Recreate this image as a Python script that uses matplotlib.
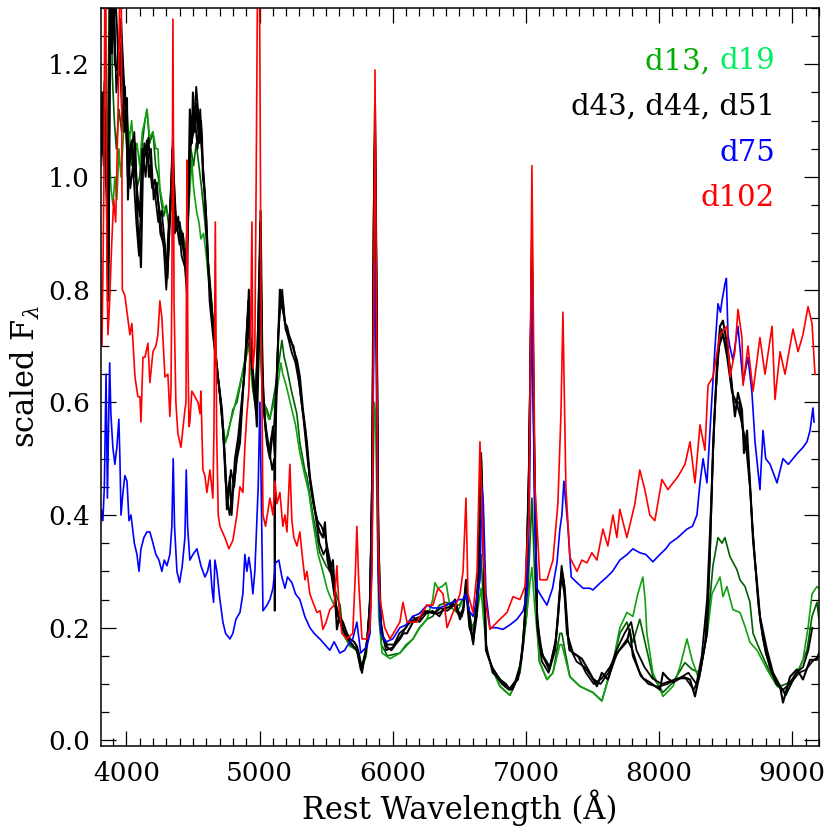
import matplotlib
matplotlib.use('Agg')
import matplotlib.pyplot as plt
from matplotlib.ticker import MultipleLocator

plt.rcParams['font.family'] = 'DejaVu Serif'
plt.rcParams['mathtext.fontset'] = 'dejavuserif'
plt.rcParams['font.size'] = 19

# ---- spectra (rest wavelength in A, scaled flux) ----
wl_d102 = [3802, 3809, 3817, 3824, 3832, 3839, 3846, 3854, 3862, 3875, 3890, 3905, 3920, 3937, 3952, 3962,
           3970, 3989, 4005, 4027, 4042, 4065, 4087, 4102, 4110, 4125, 4140, 4162, 4177, 4200, 4222, 4237,
           4252, 4267, 4290, 4312, 4327, 4335, 4342, 4350, 4358, 4372, 4387, 4410, 4440, 4448, 4455, 4462,
           4470, 4477, 4492, 4515, 4538, 4553, 4560, 4575, 4590, 4605, 4628, 4650, 4658, 4668, 4678, 4690,
           4703, 4740, 4770, 4800, 4830, 4853, 4875, 4890, 4905, 4920, 4935, 4943, 4950, 4965, 4975, 4985,
           5000, 5011, 5026, 5045, 5078, 5101, 5116, 5131, 5153, 5175, 5191, 5206, 5228, 5243, 5258, 5281,
           5303, 5320, 5341, 5356, 5378, 5401, 5431, 5455, 5476, 5500, 5528, 5560, 5581, 5596, 5618, 5656,
           5700, 5720, 5731, 5745, 5769, 5806, 5829, 5845, 5857, 5867, 5877, 5890, 5905, 5940, 5980, 6054,
           6077, 6107, 6182, 6257, 6302, 6340, 6378, 6408, 6453, 6505, 6528, 6550, 6565, 6603, 6633, 6655,
           6678, 6700, 6730, 6805, 6858, 6903, 6955, 6993, 7023, 7045, 7068, 7105, 7158, 7203, 7240, 7263,
           7278, 7300, 7330, 7383, 7420, 7458, 7495, 7533, 7578, 7615, 7653, 7683, 7705, 7758, 7818, 7855,
           7893, 7930, 7968, 8021, 8066, 8104, 8141, 8194, 8232, 8269, 8307, 8344, 8367, 8404, 8457, 8509,
           8532, 8569, 8592, 8622, 8630, 8667, 8705, 8757, 8795, 8848, 8870, 8908, 8945, 9005, 9043, 9080,
           9118, 9148, 9170]
fl_d102 = [0.92, 0.78, 0.70, 0.82, 1.00, 1.35, 1.35, 0.85, 0.72, 0.78, 0.88, 0.96, 0.92, 1.10, 1.35, 1.35,
           0.80, 0.79, 0.76, 0.72, 0.74, 0.645, 0.61, 0.61, 0.565, 0.68, 0.68, 0.705, 0.635, 0.69, 0.70, 0.72,
           0.78, 0.75, 0.645, 0.65, 0.575, 0.62, 0.80, 1.28, 0.78, 0.60, 0.545, 0.52, 0.587, 0.60, 1.03, 0.70,
           0.557, 0.565, 0.62, 0.61, 0.60, 0.58, 0.62, 0.48, 0.47, 0.44, 0.48, 0.43, 0.55, 0.92, 0.55, 0.40,
           0.38, 0.36, 0.34, 0.355, 0.40, 0.45, 0.44, 0.52, 0.58, 0.62, 0.75, 0.92, 0.66, 0.70, 1.00, 1.35,
           1.35, 0.80, 0.40, 0.38, 0.43, 0.40, 0.46, 0.42, 0.44, 0.38, 0.40, 0.37, 0.49, 0.39, 0.36, 0.345,
           0.37, 0.33, 0.285, 0.30, 0.26, 0.245, 0.227, 0.23, 0.197, 0.21, 0.232, 0.24, 0.31, 0.24, 0.19, 0.18,
           0.19, 0.30, 0.38, 0.28, 0.18, 0.18, 0.20, 0.30, 0.75, 1.19, 0.80, 0.35, 0.25, 0.20, 0.18, 0.21,
           0.245, 0.21, 0.21, 0.24, 0.24, 0.27, 0.26, 0.20, 0.227, 0.26, 0.30, 0.43, 0.26, 0.227, 0.30, 0.53,
           0.35, 0.24, 0.197, 0.215, 0.227, 0.255, 0.25, 0.273, 0.40, 1.02, 0.45, 0.285, 0.285, 0.32, 0.42, 0.58,
           0.76, 0.45, 0.325, 0.30, 0.32, 0.315, 0.333, 0.32, 0.375, 0.345, 0.40, 0.36, 0.41, 0.36, 0.42, 0.48,
           0.445, 0.40, 0.39, 0.463, 0.445, 0.457, 0.468, 0.49, 0.53, 0.457, 0.56, 0.515, 0.63, 0.645, 0.72, 0.735,
           0.645, 0.69, 0.765, 0.715, 0.63, 0.70, 0.62, 0.715, 0.65, 0.735, 0.605, 0.69, 0.65, 0.73, 0.69, 0.72,
           0.77, 0.74, 0.65]

wl_d75 = [3802, 3812, 3824, 3835, 3848, 3858, 3866, 3875, 3884, 3899, 3914, 3929, 3944, 3952, 3960, 3975,
          3989, 4005, 4020, 4035, 4060, 4080, 4095, 4110, 4132, 4155, 4177, 4200, 4222, 4245, 4267, 4285,
          4305, 4327, 4342, 4352, 4362, 4380, 4400, 4420, 4440, 4450, 4460, 4477, 4500, 4530, 4560, 4590,
          4610, 4628, 4643, 4655, 4665, 4680, 4700, 4725, 4745, 4778, 4800, 4823, 4853, 4875, 4890, 4905,
          4920, 4935, 4950, 4965, 4990, 5003, 5015, 5026, 5056, 5078, 5101, 5120, 5145, 5168, 5191, 5210,
          5243, 5270, 5303, 5340, 5378, 5410, 5453, 5490, 5528, 5560, 5603, 5640, 5656, 5700, 5731, 5760,
          5806, 5830, 5845, 5857, 5867, 5877, 5890, 5910, 5950, 6000, 6054, 6100, 6150, 6200, 6257, 6300,
          6350, 6400, 6450, 6500, 6530, 6550, 6575, 6603, 6630, 6655, 6670, 6680, 6700, 6730, 6780, 6828,
          6880, 6933, 6980, 7008, 7025, 7045, 7065, 7083, 7105, 7158, 7200, 7233, 7255, 7270, 7285, 7300,
          7315, 7340, 7383, 7430, 7480, 7503, 7560, 7608, 7650, 7705, 7760, 7803, 7855, 7900, 7953, 8006,
          8050, 8081, 8140, 8209, 8250, 8284, 8300, 8307, 8330, 8359, 8382, 8397, 8420, 8442, 8460, 8472,
          8494, 8505, 8517, 8530, 8554, 8592, 8630, 8667, 8697, 8720, 8757, 8780, 8800, 8833, 8885, 8930,
          8970, 9005, 9040, 9080, 9110, 9133, 9155, 9163]
fl_d75 = [0.37, 0.41, 0.39, 0.45, 0.65, 0.43, 0.55, 0.67, 0.58, 0.52, 0.49, 0.52, 0.57, 0.50, 0.40, 0.44,
          0.47, 0.46, 0.39, 0.40, 0.35, 0.33, 0.30, 0.34, 0.36, 0.37, 0.37, 0.35, 0.33, 0.32, 0.30, 0.32,
          0.31, 0.33, 0.38, 0.50, 0.38, 0.30, 0.28, 0.31, 0.36, 0.48, 0.38, 0.32, 0.33, 0.34, 0.31, 0.29,
          0.30, 0.32, 0.27, 0.245, 0.32, 0.30, 0.255, 0.21, 0.19, 0.18, 0.19, 0.215, 0.227, 0.26, 0.33, 0.30,
          0.325, 0.30, 0.26, 0.30, 0.45, 0.60, 0.40, 0.23, 0.24, 0.25, 0.27, 0.315, 0.32, 0.29, 0.27, 0.29,
          0.28, 0.26, 0.25, 0.22, 0.20, 0.19, 0.18, 0.17, 0.16, 0.175, 0.155, 0.16, 0.167, 0.18, 0.21, 0.155,
          0.167, 0.19, 0.35, 0.70, 0.85, 0.65, 0.30, 0.19, 0.175, 0.18, 0.20, 0.205, 0.22, 0.225, 0.24, 0.235,
          0.235, 0.24, 0.245, 0.25, 0.25, 0.26, 0.23, 0.22, 0.25, 0.285, 0.45, 0.42, 0.26, 0.20, 0.20, 0.197,
          0.205, 0.215, 0.23, 0.26, 0.40, 0.82, 0.40, 0.27, 0.26, 0.24, 0.27, 0.315, 0.375, 0.40, 0.46, 0.42,
          0.38, 0.29, 0.28, 0.27, 0.27, 0.267, 0.28, 0.29, 0.30, 0.32, 0.33, 0.34, 0.333, 0.33, 0.317, 0.33,
          0.34, 0.35, 0.36, 0.375, 0.38, 0.40, 0.44, 0.457, 0.50, 0.457, 0.55, 0.61, 0.70, 0.775, 0.76, 0.78,
          0.81, 0.82, 0.72, 0.70, 0.675, 0.735, 0.635, 0.68, 0.617, 0.53, 0.445, 0.55, 0.50, 0.49, 0.457, 0.50,
          0.49, 0.50, 0.51, 0.52, 0.53, 0.55, 0.59, 0.565]

wl_d43 = [3802, 3809, 3817, 3824, 3832, 3839, 3846, 3854, 3862, 3869, 3877, 3884, 3892, 3899, 3914, 3929,
          3945, 3960, 3975, 3989, 4005, 4012, 4027, 4042, 4055, 4065, 4080, 4087, 4102, 4110, 4125, 4140,
          4155, 4170, 4177, 4195, 4215, 4237, 4252, 4267, 4275, 4290, 4305, 4315, 4327, 4340, 4350, 4362,
          4380, 4400, 4417, 4435, 4455, 4465, 4477, 4492, 4500, 4515, 4530, 4545, 4560, 4568, 4575, 4590,
          4605, 4613, 4630, 4650, 4665, 4688, 4718, 4740, 4755, 4770, 4778, 4790, 4800, 4815, 4830, 4853,
          4875, 4895, 4905, 4920, 4935, 4943, 4965, 4980, 4995, 5008, 5020, 5030, 5056, 5078, 5101, 5116,
          5131, 5153, 5165, 5176, 5191, 5206, 5220, 5243, 5260, 5281, 5303, 5326, 5356, 5378, 5416, 5440,
          5453, 5476, 5491, 5510, 5528, 5551, 5560, 5581, 5600, 5626, 5656, 5679, 5710, 5731, 5750, 5769,
          5790, 5810, 5830, 5845, 5857, 5867, 5877, 5890, 5905, 5930, 5960, 5990, 6020, 6054, 6080, 6107,
          6152, 6204, 6230, 6280, 6330, 6355, 6400, 6430, 6468, 6505, 6530, 6550, 6565, 6603, 6630, 6648,
          6663, 6678, 6690, 6700, 6745, 6805, 6850, 6880, 6910, 6940, 6978, 7008, 7025, 7045, 7060, 7083,
          7105, 7128, 7180, 7220, 7240, 7260, 7270, 7285, 7308, 7353, 7420, 7480, 7533, 7570, 7615, 7683,
          7758, 7780, 7803, 7855, 7880, 7930, 8006, 8029, 8066, 8104, 8179, 8232, 8269, 8307, 8359, 8382,
          8404, 8434, 8457, 8479, 8509, 8540, 8569, 8592, 8622, 8637, 8660, 8682, 8705, 8735, 8757, 8810,
          8855, 8908, 8930, 8983, 9035, 9080, 9133, 9185, 9200]
fl_d43 = [1.05, 1.12, 1.08, 1.15, 1.06, 1.10, 1.00, 0.95, 0.78, 0.90, 1.25, 1.35, 1.22, 1.35, 1.20, 1.19,
          1.24, 1.28, 1.20, 1.14, 1.14, 0.96, 1.05, 1.065, 1.00, 1.06, 0.95, 0.91, 0.88, 0.84, 1.02, 1.04,
          1.065, 1.00, 1.02, 0.98, 0.995, 0.96, 0.935, 0.90, 0.89, 0.86, 0.84, 0.90, 0.935, 1.00, 1.065, 0.95,
          0.905, 0.92, 0.89, 0.86, 0.795, 0.95, 1.12, 1.06, 1.15, 1.08, 1.13, 1.06, 1.10, 1.07, 1.00, 0.97,
          0.90, 0.85, 0.80, 0.735, 0.70, 0.645, 0.587, 0.50, 0.41, 0.45, 0.468, 0.40, 0.44, 0.47, 0.50, 0.528,
          0.617, 0.68, 0.705, 0.80, 0.70, 0.675, 0.617, 0.557, 0.70, 0.94, 0.70, 0.60, 0.528, 0.50, 0.557, 0.50,
          0.65, 0.80, 0.78, 0.775, 0.74, 0.735, 0.72, 0.705, 0.69, 0.675, 0.645, 0.587, 0.528, 0.468, 0.41, 0.38,
          0.37, 0.36, 0.387, 0.32, 0.30, 0.32, 0.285, 0.197, 0.22, 0.21, 0.19, 0.18, 0.175, 0.167, 0.15, 0.12,
          0.15, 0.18, 0.25, 0.45, 0.90, 1.13, 0.85, 0.40, 0.22, 0.18, 0.165, 0.16, 0.17, 0.18, 0.19, 0.19,
          0.21, 0.215, 0.23, 0.227, 0.225, 0.227, 0.235, 0.237, 0.25, 0.215, 0.23, 0.285, 0.24, 0.175, 0.22, 0.30,
          0.51, 0.40, 0.25, 0.16, 0.13, 0.108, 0.10, 0.09, 0.10, 0.108, 0.167, 0.285, 0.50, 0.89, 0.55, 0.227,
          0.17, 0.15, 0.13, 0.17, 0.215, 0.28, 0.30, 0.28, 0.19, 0.155, 0.145, 0.12, 0.096, 0.12, 0.108, 0.155,
          0.175, 0.197, 0.15, 0.12, 0.11, 0.103, 0.09, 0.12, 0.11, 0.103, 0.113, 0.108, 0.078, 0.12, 0.19, 0.34,
          0.515, 0.665, 0.735, 0.745, 0.705, 0.645, 0.575, 0.617, 0.587, 0.51, 0.55, 0.457, 0.355, 0.28, 0.22, 0.16,
          0.12, 0.096, 0.067, 0.113, 0.126, 0.108, 0.143, 0.143, 0.155]

wl_d44 = [3802, 3820, 3840, 3855, 3866, 3875, 3890, 3905, 3925, 3950, 3970, 3990, 4010, 4035, 4060, 4080,
          4100, 4120, 4145, 4165, 4190, 4215, 4240, 4265, 4290, 4310, 4330, 4352, 4375, 4400, 4425, 4450,
          4470, 4490, 4510, 4535, 4555, 4575, 4595, 4620, 4645, 4670, 4700, 4725, 4745, 4765, 4785, 4810,
          4835, 4860, 4885, 4910, 4925, 4945, 4970, 4990, 5005, 5020, 5040, 5070, 5095, 5110, 5114, 5119,
          5140, 5160, 5185, 5210, 5240, 5270, 5300, 5330, 5360, 5390, 5420, 5450, 5480, 5500, 5530, 5560,
          5590, 5620, 5660, 5700, 5740, 5765, 5800, 5830, 5847, 5860, 5868, 5878, 5892, 5910, 5950, 6000,
          6050, 6100, 6150, 6200, 6250, 6300, 6350, 6400, 6450, 6490, 6520, 6550, 6575, 6605, 6640, 6663,
          6680, 6700, 6750, 6800, 6850, 6900, 6950, 6990, 7020, 7045, 7062, 7085, 7120, 7170, 7220, 7265,
          7290, 7320, 7380, 7440, 7500, 7560, 7620, 7680, 7740, 7790, 7830, 7890, 7950, 8020, 8080, 8150,
          8220, 8280, 8320, 8360, 8390, 8420, 8450, 8480, 8510, 8545, 8580, 8615, 8650, 8685, 8715, 8745,
          8780, 8830, 8880, 8930, 8980, 9030, 9080, 9120, 9150]
fl_d44 = [1.10, 1.04, 1.12, 0.98, 0.80, 1.35, 1.30, 1.35, 1.15, 1.22, 1.10, 1.16, 1.00, 1.04, 1.08, 0.98,
          0.93, 1.05, 1.00, 1.07, 1.00, 0.97, 0.92, 0.94, 0.88, 0.82, 0.95, 1.02, 0.92, 0.88, 0.90, 0.82,
          1.00, 1.10, 1.12, 1.05, 1.12, 1.02, 0.93, 0.82, 0.76, 0.68, 0.62, 0.55, 0.46, 0.43, 0.48, 0.45,
          0.52, 0.57, 0.65, 0.75, 0.70, 0.66, 0.60, 0.75, 0.92, 0.66, 0.57, 0.52, 0.48, 0.50, 0.23, 0.55,
          0.72, 0.78, 0.75, 0.72, 0.69, 0.67, 0.63, 0.57, 0.50, 0.44, 0.40, 0.35, 0.33, 0.34, 0.31, 0.26,
          0.22, 0.20, 0.18, 0.17, 0.155, 0.13, 0.16, 0.24, 0.50, 1.00, 1.10, 0.80, 0.35, 0.20, 0.16, 0.165,
          0.19, 0.20, 0.22, 0.21, 0.225, 0.23, 0.22, 0.24, 0.245, 0.23, 0.22, 0.27, 0.20, 0.18, 0.28, 0.49,
          0.35, 0.17, 0.12, 0.11, 0.095, 0.09, 0.12, 0.20, 0.45, 0.86, 0.50, 0.20, 0.14, 0.12, 0.16, 0.29,
          0.26, 0.17, 0.14, 0.13, 0.11, 0.10, 0.12, 0.16, 0.19, 0.21, 0.16, 0.13, 0.11, 0.10, 0.105, 0.11,
          0.12, 0.10, 0.15, 0.25, 0.42, 0.60, 0.70, 0.72, 0.68, 0.62, 0.60, 0.57, 0.53, 0.44, 0.33, 0.24,
          0.18, 0.13, 0.10, 0.09, 0.10, 0.12, 0.13, 0.16, 0.20]

wl_d51 = [3802, 3815, 3830, 3850, 3866, 3880, 3900, 3920, 3945, 3965, 3985, 4005, 4030, 4050, 4075, 4095,
          4115, 4135, 4160, 4185, 4205, 4230, 4255, 4280, 4300, 4320, 4345, 4365, 4390, 4415, 4440, 4460,
          4480, 4505, 4525, 4545, 4565, 4585, 4600, 4625, 4650, 4680, 4710, 4735, 4755, 4775, 4795, 4815,
          4840, 4865, 4890, 4915, 4930, 4955, 4975, 4995, 5008, 5022, 5045, 5070, 5090, 5110, 5135, 5150,
          5170, 5195, 5225, 5255, 5285, 5315, 5345, 5375, 5405, 5435, 5465, 5495, 5520, 5545, 5575, 5610,
          5650, 5690, 5730, 5760, 5795, 5825, 5845, 5858, 5867, 5878, 5893, 5915, 5960, 6010, 6060, 6110,
          6160, 6210, 6260, 6310, 6360, 6410, 6460, 6500, 6530, 6552, 6575, 6605, 6642, 6664, 6682, 6702,
          6760, 6820, 6870, 6920, 6965, 6995, 7022, 7045, 7063, 7085, 7125, 7175, 7225, 7268, 7292, 7325,
          7390, 7450, 7510, 7570, 7630, 7700, 7760, 7800, 7860, 7920, 7990, 8060, 8130, 8200, 8260, 8300,
          8345, 8380, 8410, 8440, 8470, 8500, 8530, 8560, 8600, 8640, 8670, 8700, 8730, 8760, 8800, 8850,
          8900, 8950, 9000, 9050, 9100, 9150, 9200]
fl_d51 = [1.00, 1.10, 1.02, 1.08, 0.85, 1.30, 1.25, 1.32, 1.18, 1.25, 1.08, 1.10, 0.98, 1.02, 0.92, 0.86,
          0.98, 1.06, 1.03, 1.05, 0.96, 0.99, 0.90, 0.88, 0.80, 0.88, 1.05, 0.90, 0.93, 0.86, 0.84, 0.90,
          1.05, 1.08, 1.16, 1.10, 1.05, 0.99, 0.93, 0.78, 0.72, 0.66, 0.60, 0.52, 0.44, 0.40, 0.43, 0.50,
          0.54, 0.60, 0.66, 0.78, 0.72, 0.62, 0.58, 0.80, 0.90, 0.62, 0.55, 0.51, 0.54, 0.56, 0.68, 0.76,
          0.80, 0.73, 0.71, 0.70, 0.66, 0.60, 0.55, 0.47, 0.42, 0.39, 0.38, 0.36, 0.33, 0.30, 0.24, 0.21,
          0.185, 0.17, 0.16, 0.125, 0.15, 0.22, 0.42, 0.95, 1.08, 0.82, 0.36, 0.19, 0.17, 0.17, 0.185, 0.205,
          0.215, 0.22, 0.23, 0.225, 0.235, 0.23, 0.24, 0.22, 0.235, 0.28, 0.21, 0.17, 0.29, 0.50, 0.33, 0.16,
          0.12, 0.10, 0.09, 0.105, 0.14, 0.23, 0.48, 0.87, 0.52, 0.21, 0.15, 0.125, 0.18, 0.31, 0.27, 0.16,
          0.15, 0.12, 0.10, 0.11, 0.13, 0.16, 0.18, 0.16, 0.115, 0.10, 0.095, 0.10, 0.11, 0.11, 0.09, 0.11,
          0.17, 0.32, 0.55, 0.68, 0.73, 0.70, 0.66, 0.60, 0.60, 0.53, 0.50, 0.38, 0.29, 0.21, 0.155, 0.12,
          0.10, 0.08, 0.105, 0.12, 0.125, 0.14, 0.15]

wl_d13 = [3802, 3812, 3824, 3835, 3846, 3855, 3866, 3875, 3884, 3895, 3910, 3925, 3945, 3965, 3985, 4005,
          4020, 4040, 4060, 4080, 4100, 4120, 4140, 4155, 4175, 4200, 4220, 4240, 4260, 4280, 4300, 4320,
          4340, 4360, 4390, 4420, 4445, 4465, 4485, 4505, 4525, 4545, 4565, 4590, 4615, 4640, 4665, 4690,
          4715, 4740, 4760, 4800, 4830, 4853, 4890, 4920, 4945, 4965, 4985, 5000, 5015, 5030, 5056, 5078,
          5100, 5131, 5168, 5185, 5206, 5240, 5280, 5303, 5340, 5356, 5401, 5453, 5500, 5530, 5551, 5580,
          5605, 5626, 5680, 5730, 5769, 5800, 5830, 5847, 5860, 5868, 5878, 5892, 5915, 5960, 6054, 6110,
          6152, 6200, 6257, 6300, 6350, 6400, 6450, 6500, 6550, 6595, 6630, 6650, 6663, 6680, 6708, 6760,
          6805, 6880, 6955, 7008, 7030, 7045, 7065, 7100, 7158, 7203, 7255, 7270, 7300, 7330, 7405, 7503,
          7570, 7653, 7705, 7758, 7803, 7855, 7908, 7953, 8029, 8104, 8194, 8247, 8307, 8359, 8404, 8442,
          8472, 8494, 8532, 8584, 8607, 8645, 8682, 8705, 8757, 8833, 8908, 8983, 9058, 9110, 9148, 9185,
          9200]
fl_d13 = [1.10, 1.15, 1.12, 1.17, 1.05, 1.00, 1.20, 1.35, 1.35, 1.18, 1.10, 1.05, 1.12, 1.08, 1.12, 1.05,
          1.08, 1.02, 1.05, 0.98, 1.00, 1.06, 1.10, 1.12, 1.06, 1.08, 1.02, 1.00, 0.96, 0.93, 0.95, 0.91,
          0.96, 0.92, 0.90, 0.88, 0.86, 0.95, 1.05, 1.02, 1.06, 1.02, 0.98, 0.92, 0.85, 0.78, 0.70, 0.64,
          0.58, 0.53, 0.54, 0.587, 0.60, 0.628, 0.675, 0.705, 0.65, 0.617, 0.68, 0.75, 0.65, 0.60, 0.587, 0.57,
          0.60, 0.645, 0.71, 0.68, 0.66, 0.62, 0.58, 0.528, 0.48, 0.468, 0.40, 0.333, 0.31, 0.30, 0.285, 0.255,
          0.24, 0.19, 0.167, 0.165, 0.13, 0.15, 0.25, 0.50, 0.82, 0.88, 0.70, 0.32, 0.17, 0.15, 0.155, 0.17,
          0.18, 0.20, 0.215, 0.22, 0.24, 0.245, 0.24, 0.24, 0.26, 0.20, 0.22, 0.28, 0.33, 0.25, 0.155, 0.12,
          0.096, 0.08, 0.12, 0.227, 0.35, 0.43, 0.30, 0.14, 0.108, 0.12, 0.19, 0.19, 0.15, 0.113, 0.096, 0.085,
          0.07, 0.138, 0.19, 0.21, 0.174, 0.215, 0.16, 0.113, 0.085, 0.103, 0.138, 0.126, 0.12, 0.19, 0.31, 0.36,
          0.35, 0.36, 0.326, 0.303, 0.285, 0.273, 0.245, 0.19, 0.16, 0.12, 0.096, 0.103, 0.13, 0.16, 0.22, 0.245,
          0.215]

wl_d19 = [3802, 3812, 3824, 3835, 3846, 3858, 3870, 3885, 3900, 3914, 3929, 3945, 3960, 3980, 4005, 4020,
          4040, 4060, 4080, 4100, 4120, 4140, 4155, 4175, 4200, 4222, 4237, 4252, 4275, 4305, 4327, 4350,
          4370, 4390, 4417, 4440, 4455, 4470, 4492, 4505, 4530, 4545, 4560, 4580, 4600, 4625, 4650, 4675,
          4700, 4725, 4745, 4765, 4800, 4830, 4860, 4890, 4920, 4945, 4965, 4990, 5005, 5020, 5040, 5070,
          5100, 5131, 5160, 5175, 5200, 5230, 5270, 5303, 5340, 5370, 5400, 5440, 5475, 5506, 5530, 5560,
          5600, 5626, 5680, 5730, 5769, 5800, 5830, 5848, 5862, 5870, 5880, 5895, 5920, 5980, 6054, 6100,
          6152, 6204, 6257, 6300, 6317, 6340, 6370, 6400, 6430, 6483, 6550, 6595, 6630, 6650, 6663, 6680,
          6708, 6760, 6805, 6880, 6955, 7008, 7030, 7045, 7065, 7105, 7158, 7203, 7255, 7270, 7330, 7405,
          7503, 7570, 7653, 7705, 7758, 7803, 7840, 7878, 7895, 7908, 7953, 8029, 8104, 8156, 8209, 8247,
          8292, 8359, 8397, 8457, 8479, 8509, 8554, 8607, 8645, 8682, 8735, 8810, 8885, 8960, 9035, 9080,
          9118, 9148, 9185, 9200]
fl_d19 = [1.08, 1.15, 1.10, 1.13, 1.00, 0.97, 1.05, 0.98, 0.95, 1.00, 0.96, 1.05, 1.00, 1.08, 1.12, 1.06,
          1.10, 1.03, 1.06, 1.02, 1.08, 1.10, 1.12, 1.07, 1.08, 1.05, 1.05, 0.98, 0.95, 0.935, 0.93, 0.96,
          0.92, 0.90, 0.905, 0.88, 0.87, 0.95, 1.03, 0.98, 0.935, 0.92, 0.89, 0.90, 0.86, 0.80, 0.74, 0.68,
          0.62, 0.557, 0.528, 0.55, 0.58, 0.61, 0.64, 0.67, 0.70, 0.63, 0.60, 0.66, 0.75, 0.63, 0.59, 0.57,
          0.59, 0.62, 0.67, 0.65, 0.63, 0.60, 0.56, 0.51, 0.47, 0.44, 0.39, 0.33, 0.30, 0.27, 0.255, 0.24,
          0.22, 0.19, 0.167, 0.16, 0.13, 0.15, 0.22, 0.40, 0.60, 0.58, 0.45, 0.22, 0.155, 0.145, 0.155, 0.17,
          0.18, 0.20, 0.215, 0.25, 0.28, 0.27, 0.273, 0.28, 0.237, 0.227, 0.26, 0.197, 0.22, 0.25, 0.27, 0.22,
          0.155, 0.12, 0.096, 0.08, 0.12, 0.227, 0.28, 0.307, 0.24, 0.138, 0.108, 0.12, 0.17, 0.17, 0.113, 0.096,
          0.085, 0.07, 0.138, 0.20, 0.227, 0.22, 0.26, 0.29, 0.25, 0.19, 0.12, 0.078, 0.096, 0.13, 0.18, 0.143,
          0.113, 0.185, 0.26, 0.29, 0.255, 0.273, 0.232, 0.227, 0.202, 0.174, 0.16, 0.126, 0.096, 0.085, 0.12, 0.143,
          0.20, 0.26, 0.273, 0.27]

legend_rows = [['d13, ', 'd19'], ['d43, d44, d51'], ['d75'], ['d102']]
legend_colors = [['#00aa00', '#00ee66'], ['black'], ['#0000ff'], ['#ff0000']]

fig = plt.figure(figsize=(8.3, 8.3), dpi=100)
ax = fig.add_axes([0.1217, 0.1012, 0.8650, 0.8892])

ax.plot(wl_d13, fl_d13, color='#005f00', lw=1.2)
ax.plot(wl_d19, fl_d19, color='#12a012', lw=1.2)
ax.plot(wl_d43, fl_d43, color='black', lw=1.5)
ax.plot(wl_d44, fl_d44, color='black', lw=1.3)
ax.plot(wl_d51, fl_d51, color='black', lw=1.3)
ax.plot(wl_d75, fl_d75, color='#0000ff', lw=1.2)
ax.plot(wl_d102, fl_d102, color='#ff0000', lw=1.2)

ax.set_xlim(3810, 9200)
ax.set_ylim(-0.01, 1.3)
ax.xaxis.set_major_locator(MultipleLocator(1000))
ax.xaxis.set_minor_locator(MultipleLocator(100))
ax.yaxis.set_major_locator(MultipleLocator(0.2))
ax.yaxis.set_minor_locator(MultipleLocator(0.05))
ax.yaxis.set_major_formatter(plt.FormatStrFormatter('%.1f'))
ax.tick_params(which='both', direction='in', top=True, right=True, width=0.9)
ax.tick_params(which='major', length=11)
ax.tick_params(which='minor', length=5.5)
ax.tick_params(axis='x', which='major', pad=11)
ax.tick_params(axis='y', which='major', pad=8)
for s in ax.spines.values():
    s.set_linewidth(1.1)

ax.set_xlabel('Rest Wavelength (Å)', fontsize=22, labelpad=2)
ax.set_ylabel(r'scaled F$_\lambda$', fontsize=22, labelpad=4)

# colour-coded epoch labels, right aligned
ypos = [1.205, 1.125, 1.043, 0.963]
for parts, cols, y in zip(legend_rows, legend_colors, ypos):
    x = 8870
    for txt, c in zip(parts[::-1], cols[::-1]):
        t = ax.text(x, y, txt, color=c, ha='right', va='center', fontsize=21)
        fig.canvas.draw()
        bb = t.get_window_extent()
        x = ax.transData.inverted().transform((bb.x0, 0))[0]

fig.savefig('out.png', dpi=100)
